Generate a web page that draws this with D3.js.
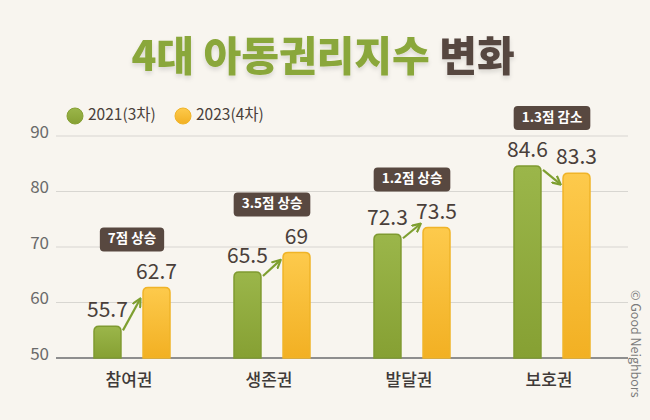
<!DOCTYPE html>
<html><head><meta charset="utf-8">
<script src="https://cdn.jsdelivr.net/npm/d3@7"></script>
<style>
html,body{margin:0;padding:0;background:#f8f5ef;}
svg{display:block;}
text{font-family:"Noto Sans CJK KR","Noto Sans",sans-serif;}
</style></head><body>
<svg id="c" width="650" height="420"></svg>
<script>
const categories = ["참여권","생존권","발달권","보호권"];
const seriesNames = ["2021(3차)","2023(4차)"];
const values2021 = [55.7, 65.5, 72.3, 84.6];
const values2023 = [62.7, 69, 73.5, 83.3];
const valueLabels2021 = ["55.7","65.5","72.3","84.6"];
const valueLabels2023 = ["62.7","69","73.5","83.3"];
const changeLabels = ["7점 상승","3.5점 상승","1.2점 상승","1.3점 감소"];
const yTicks = [50,60,70,80,90];

const W=650,H=420;
const svg=d3.select("#c");
const defs=svg.append("defs");
const gG=defs.append("linearGradient").attr("id","gG").attr("x1",0).attr("y1",0).attr("x2",0).attr("y2",1);
gG.append("stop").attr("offset","0%").attr("stop-color","#9bb64a");
gG.append("stop").attr("offset","100%").attr("stop-color","#86a033");
const gY=defs.append("linearGradient").attr("id","gY").attr("x1",0).attr("y1",0).attr("x2",0).attr("y2",1);
gY.append("stop").attr("offset","0%").attr("stop-color","#fdca4c");
gY.append("stop").attr("offset","100%").attr("stop-color","#f2b023");
const sh=defs.append("filter").attr("id","ts").attr("x","-10%").attr("y","-20%").attr("width","120%").attr("height","150%");
sh.append("feDropShadow").attr("dx",0).attr("dy",3).attr("stdDeviation",2).attr("flood-color","#000").attr("flood-opacity",0.12);
const mk=defs.append("marker").attr("id","ah").attr("viewBox","0 0 10 10").attr("refX",8).attr("refY",5)
  .attr("markerWidth",4.5).attr("markerHeight",4.5).attr("orient","auto-start-reverse").attr("markerUnits","strokeWidth");
mk.append("path").attr("d","M1,1 L9,5 L1,9").attr("fill","none").attr("stroke","#7e9f30").attr("stroke-width",2.2).attr("stroke-linecap","round").attr("stroke-linejoin","round");

// title
const title=svg.append("text").attr("x",323).attr("y",71).attr("text-anchor","middle")
  .attr("font-size",41).attr("font-weight",900).attr("filter","url(#ts)");
title.append("tspan").attr("fill","#8aa73a").text("4대 아동권리지수 ");
title.append("tspan").attr("fill","#574740").text("변화");

const y=d3.scaleLinear().domain([50,90]).range([358,136]);
const x=d3.scaleBand().domain(categories).range([62,622]).paddingInner(0).paddingOuter(0);
const inner=d3.scaleBand().domain(seriesNames).range([-38,38]).paddingInner(0.45);

// grid
const grid=svg.append("g");
grid.selectAll("line").data(yTicks).join("line")
  .attr("x1",56).attr("x2",628).attr("y1",d=>y(d)).attr("y2",d=>y(d))
  .attr("stroke",d=>d===50?"#8e8e8e":"#d8d6d1").attr("stroke-width",d=>d===50?2:1.2);
grid.selectAll("text").data(yTicks).join("text")
  .attr("x",49).attr("y",d=>y(d)-3).attr("text-anchor","end").attr("dominant-baseline","middle")
  .attr("font-size",17).attr("fill","#6a6a6a").text(d=>d);

// legend
const leg=svg.append("g");
const legColors=["url(#gG)","url(#gY)"],legStroke=["#86a033","#f0b428"];
const legX=[75,183];
seriesNames.forEach((s,i)=>{
  leg.append("circle").attr("cx",legX[i]).attr("cy",116).attr("r",8).attr("fill",legColors[i]).attr("stroke",legStroke[i]).attr("stroke-width",1);
  leg.append("text").attr("x",legX[i]+13).attr("y",116).attr("dominant-baseline","middle").attr("font-size",15.5).attr("fill","#4a3f3a").text(s);
});

function roundTop(x0,y0,w,h,r){
  return `M${x0},${y0+h} L${x0},${y0+r} Q${x0},${y0} ${x0+r},${y0} L${x0+w-r},${y0} Q${x0+w},${y0} ${x0+w},${y0+r} L${x0+w},${y0+h} Z`;
}
const bw=inner.bandwidth();
const data=categories.map((c,i)=>({c,v1:values2021[i],v2:values2023[i],l1:valueLabels2021[i],l2:valueLabels2023[i],ch:changeLabels[i]}));
const g=svg.append("g");
data.forEach(d=>{
  const cx=x(d.c)+x.bandwidth()/2;
  const x1=cx+inner(seriesNames[0]), x2=cx+inner(seriesNames[1]);
  const t1=y(d.v1), t2=y(d.v2);
  g.append("path").attr("d",roundTop(x1,t1,bw,y(50)-t1,5)).attr("fill","url(#gG)").attr("stroke","#7f9a30").attr("stroke-width",1.5);
  g.append("path").attr("d",roundTop(x2,t2,bw,y(50)-t2,5)).attr("fill","url(#gY)").attr("stroke","#f0b428").attr("stroke-width",1.5);
  g.append("text").attr("x",x1+bw/2).attr("y",t1-9).attr("text-anchor","middle").attr("font-size",21).attr("fill","#4a3f3a").text(d.l1);
  g.append("text").attr("x",x2+bw/2).attr("y",t2-9).attr("text-anchor","middle").attr("font-size",21).attr("fill","#4a3f3a").text(d.l2);
  // arrow
  const dyRaw=t2-t1, sgn=dyRaw<0?-1:1;
  const dy=sgn*Math.max(Math.abs(dyRaw)*0.8,14);
  const ay=t1+4;
  g.append("line").attr("x1",x1+bw+2).attr("y1",ay).attr("x2",x2-3).attr("y2",ay+dy)
    .attr("stroke","#7e9f30").attr("stroke-width",2.2).attr("marker-end","url(#ah)");
  // change box
  const top=Math.min(t1,t2);
  const lab=g.append("text").attr("x",cx).attr("y",top-48).attr("text-anchor","middle").attr("dominant-baseline","middle")
    .attr("font-size",13.5).attr("font-weight",700).attr("fill","#fff").text(d.ch);
  const bb=lab.node().getBBox();
  g.insert("rect",()=>lab.node()).attr("x",cx-bb.width/2-8).attr("y",top-60).attr("width",bb.width+16).attr("height",24).attr("rx",4).attr("fill","#584840");
  // x label
  g.append("text").attr("x",cx-3).attr("y",381).attr("text-anchor","middle").attr("dominant-baseline","middle")
    .attr("font-size",17).attr("font-weight",500).attr("fill","#3f3a38").text(d.c);
});

svg.append("text").attr("transform","translate(631,290) rotate(90)").attr("font-size",12.5).attr("fill","#7a7a7a").text("© Good Neighbors");
</script></body></html>
